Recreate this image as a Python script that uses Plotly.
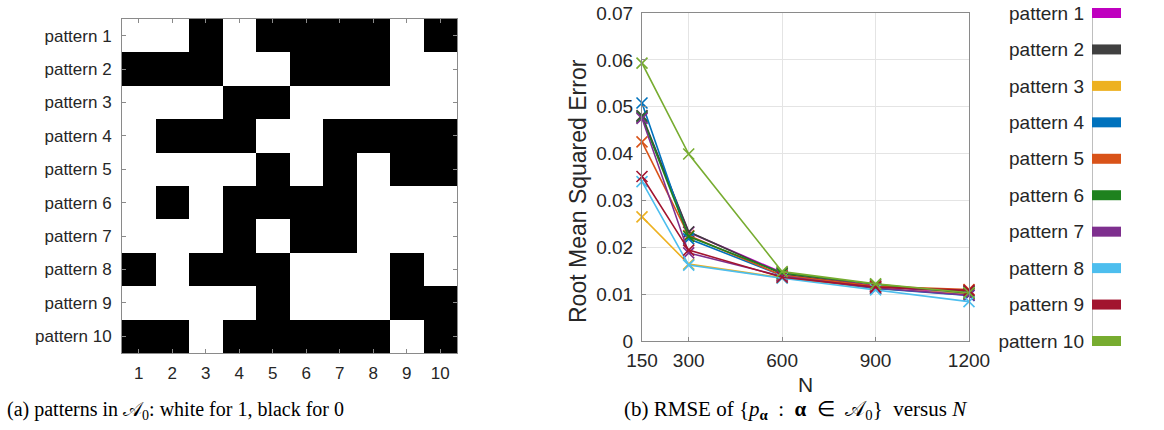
import plotly.graph_objects as go

W, H = 1164, 430

# ---------------- data ----------------
pattern_names = [f"pattern {k}" for k in range(1, 11)]
col_labels = [str(k) for k in range(1, 11)]
# 1 = white, 0 = black
pattern_matrix = [
    [1, 1, 0, 1, 0, 0, 0, 0, 1, 0],
    [0, 0, 0, 1, 1, 0, 0, 0, 1, 1],
    [1, 1, 1, 0, 0, 1, 1, 1, 1, 1],
    [1, 0, 0, 0, 1, 1, 0, 0, 0, 0],
    [1, 1, 1, 1, 0, 1, 0, 1, 0, 0],
    [1, 0, 1, 0, 0, 0, 0, 1, 1, 1],
    [1, 1, 1, 0, 1, 0, 0, 1, 1, 1],
    [0, 1, 0, 0, 0, 1, 1, 1, 0, 1],
    [1, 1, 1, 1, 0, 1, 1, 1, 0, 0],
    [0, 0, 1, 0, 0, 0, 0, 0, 1, 0],
]

N_values = [150, 300, 600, 900, 1200]
rmse_p1 = [0.0478, 0.0232, 0.0146, 0.0118, 0.0098]
rmse_p2 = [0.0481, 0.0233, 0.0143, 0.0116, 0.0106]
rmse_p3 = [0.0265, 0.0164, 0.0135, 0.0112, 0.0100]
rmse_p4 = [0.0508, 0.0218, 0.0140, 0.0112, 0.0097]
rmse_p5 = [0.0425, 0.0225, 0.0140, 0.0117, 0.0110]
rmse_p6 = [0.0478, 0.0223, 0.0145, 0.0121, 0.0102]
rmse_p7 = [0.0475, 0.0188, 0.0138, 0.0113, 0.0098]
rmse_p8 = [0.0340, 0.0162, 0.0134, 0.0109, 0.0084]
rmse_p9 = [0.0351, 0.0194, 0.0136, 0.0115, 0.0108]
rmse_p10 = [0.0593, 0.0399, 0.0148, 0.0122, 0.0103]
rmse_series = [rmse_p1, rmse_p2, rmse_p3, rmse_p4, rmse_p5,
               rmse_p6, rmse_p7, rmse_p8, rmse_p9, rmse_p10]

colors = ["#BF00BF", "#404040", "#EDB120", "#0072BD", "#D95319",
          "#1E821E", "#7E2F8E", "#4DBEEE", "#A2142F", "#77AC30"]

yticks_rmse = [0, 0.01, 0.02, 0.03, 0.04, 0.05, 0.06, 0.07]
ytick_text = ["0", "0.01", "0.02", "0.03", "0.04", "0.05", "0.06", "0.07"]

# ---------------- helpers ----------------
def xd(a, b):
    return [a / W, b / W]

def yd(top, bottom):
    return [1 - bottom / H, 1 - top / H]

TXT = "#262626"
AX = "#8a8a8a"
FONT = "Liberation Sans"

fig = go.Figure()

# ---- (a) heatmap ----
fig.add_trace(go.Heatmap(
    z=pattern_matrix, x=col_labels, y=pattern_names,
    colorscale=[[0, "black"], [1, "white"]], zmin=0, zmax=1,
    showscale=False, xaxis="x", yaxis="y", hoverinfo="skip"))

# ---- (b) line chart ----
for name, vals, c in zip(pattern_names, rmse_series, colors):
    fig.add_trace(go.Scatter(
        x=N_values, y=vals, mode="lines+markers", name=name,
        line=dict(color=c, width=1.6),
        marker=dict(symbol="x-thin", size=11, line=dict(color=c, width=1.6)),
        xaxis="x2", yaxis="y2", showlegend=False, cliponaxis=False))

# ---- legend panel (drawn as a third axis) ----
for i, (name, c) in enumerate(zip(pattern_names, colors)):
    fig.add_trace(go.Scatter(
        x=[0, 1], y=[i, i], mode="lines", line=dict(color=c, width=10),
        xaxis="x3", yaxis="y3", showlegend=False, hoverinfo="skip"))

ext = 8 / ((341 - 13) / 9)

fig.update_layout(
    template="none",
    width=W, height=H,
    margin=dict(l=0, r=0, t=0, b=0, autoexpand=False),
    showlegend=False,
    paper_bgcolor="white", plot_bgcolor="white",
    font=dict(family=FONT, color=TXT),
    xaxis=dict(domain=xd(122, 457), type="category", automargin=False,
               showline=True, linecolor=AX, mirror="ticks",
               ticks="inside", ticklen=4, tickcolor=AX,
               tickfont=dict(size=17, color=TXT), showgrid=False,
               zeroline=False, ticklabelstandoff=5),
    yaxis=dict(domain=yd(19, 353), type="category", autorange="reversed",
               automargin=False,
               showline=True, linecolor=AX, mirror="ticks",
               ticks="inside", ticklen=4, tickcolor=AX,
               tickfont=dict(size=17, color=TXT), showgrid=False,
               zeroline=False, ticklabelstandoff=6),
    xaxis2=dict(domain=xd(642, 969), anchor="y2", range=[150, 1200],
                automargin=False,
                tickvals=N_values, ticktext=[str(v) for v in N_values],
                showline=True, linecolor=AX, mirror=True,
                ticks="inside", ticklen=4, tickcolor=AX,
                showgrid=True, gridcolor="#e4e4e4", zeroline=False,
                tickfont=dict(size=19, color=TXT), ticklabelstandoff=2),
    yaxis2=dict(domain=yd(13, 341), anchor="x2", range=[0, 0.07],
                automargin=False,
                tickvals=yticks_rmse, ticktext=ytick_text,
                showline=True, linecolor=AX, mirror=True,
                ticks="inside", ticklen=4, tickcolor=AX,
                showgrid=True, gridcolor="#e4e4e4", zeroline=False,
                tickfont=dict(size=19, color=TXT), ticklabelstandoff=4),
    xaxis3=dict(domain=xd(1092, 1121), anchor="y3", range=[0, 1],
                visible=False, fixedrange=True, automargin=False),
    yaxis3=dict(domain=yd(13 - 8, 341 + 8), anchor="x3", automargin=False,
                range=[9 + ext, -ext], tickvals=list(range(10)),
                ticktext=pattern_names, ticks="", showline=False,
                showgrid=False, zeroline=False,
                tickfont=dict(size=19, color=TXT), ticklabelstandoff=7),
)

fig.add_shape(type="line", xref="x3", yref="y3", x0=0, x1=0, y0=0, y1=9,
              line=dict(color="#a8a8a8", width=1.5), layer="below")

# axis titles
fig.add_annotation(text="N", x=805 / W, y=1 - 384 / H, xref="paper", yref="paper",
                   xanchor="center", yanchor="middle",
                   showarrow=False, font=dict(size=21, color=TXT))
fig.add_annotation(text="Root Mean Squared Error", x=578 / W, y=1 - 191 / H,
                   xref="paper", yref="paper", textangle=-90, showarrow=False,
                   xanchor="center", yanchor="middle",
                   font=dict(size=23, color=TXT))

# captions
SERIF = "Liberation Serif"
fig.add_annotation(
    text="(a) patterns in 𝒜<sub>0</sub>: white for 1, black for 0",
    x=5 / W, y=1 - 410 / H, xref="paper", yref="paper", xanchor="left",
    yanchor="middle",
    showarrow=False, font=dict(size=20, color="black", family=SERIF))
fig.add_annotation(
    text="(b) RMSE of {<i>p</i><sub><b>α</b></sub>  :  <b>α</b>  ∈  𝒜<sub>0</sub>}  versus <i>N</i>",
    x=622 / W, y=1 - 410 / H, xref="paper", yref="paper", xanchor="left",
    yanchor="middle",
    showarrow=False, font=dict(size=21, color="black", family=SERIF))

fig.write_html("out.html")
